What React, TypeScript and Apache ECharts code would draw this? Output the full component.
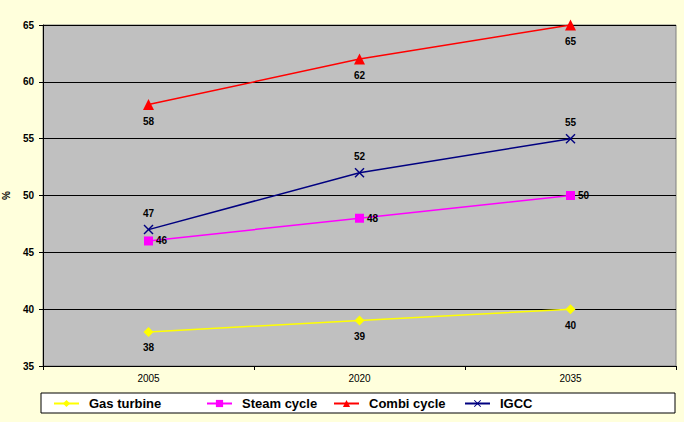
import React, { useEffect, useRef } from "react";
import * as echarts from "echarts";

const years = ["2005", "2020", "2035"];
const gasTurbine = [38, 39, 40];
const steamCycle = [46, 48, 50];
const combiCycle = [58, 62, 65];
const igcc = [47, 52, 55];
const seriesNames = ["Gas turbine", "Steam cycle", "Combi cycle", "IGCC"];

const crossPath =
  "path://M0,1 L1,0 L5,4 L9,0 L10,1 L6,5 L10,9 L9,10 L5,6 L1,10 L0,9 L4,5 Z";

export default function App() {
  const ref = useRef<HTMLDivElement>(null);
  useEffect(() => {
    if (!ref.current) return;
    const chart = echarts.init(ref.current, undefined, { renderer: "svg" });
    const font = "Arial, 'Liberation Sans', sans-serif";
    const lbl = (position: string, distance = 5) => ({
      show: true,
      position,
      distance,
      color: "#000",
      fontFamily: font,
      fontSize: 10,
      fontWeight: "bold",
    });
    const legendPos = [53, 206, 333, 464];
    chart.setOption({
      animation: false,
      backgroundColor: "#FFFFDC",
      grid: {
        left: 43,
        right: 8,
        top: 25,
        bottom: 56,
        outerBoundsMode: "none",
        containLabel: false,
        show: true,
        backgroundColor: "#C0C0C0",
        borderColor: "#808080",
        borderWidth: 1,
      },
      graphic: [
        {
          type: "rect",
          shape: { x: 41, y: 393, width: 634, height: 20 },
          style: { fill: "#FFFFFF", stroke: "#000", lineWidth: 1 },
          z: -1,
          silent: true,
        },
      ],
      legend: seriesNames.map((n, i) => ({
        data: [n],
        left: legendPos[i],
        top: 397,
        itemWidth: 25,
        itemHeight: 9,
        itemGap: 8,
        padding: 0,
        textStyle: {
          color: "#000",
          fontFamily: font,
          fontSize: 13,
          fontWeight: "bold",
          padding: [0, 0, 0, 5],
        },
      })),
      xAxis: {
        type: "category",
        data: years,
        boundaryGap: true,
        axisLine: { show: true, lineStyle: { color: "#000", width: 1 } },
        axisTick: { show: true, length: 4, lineStyle: { color: "#000" } },
        axisLabel: {
          color: "#000",
          fontFamily: font,
          fontSize: 10,
          margin: 7,
        },
      },
      yAxis: {
        type: "value",
        min: 35,
        max: 65,
        interval: 5,
        name: "%",
        nameLocation: "middle",
        nameGap: 29,
        nameRotate: 90,
        nameTextStyle: {
          color: "#000",
          fontFamily: font,
          fontSize: 10,
          fontWeight: "bold",
        },
        axisLine: { show: true, lineStyle: { color: "#000", width: 1 } },
        axisTick: { show: true, length: 4, lineStyle: { color: "#000" } },
        axisLabel: {
          color: "#000",
          fontFamily: font,
          fontSize: 10,
          fontWeight: "bold",
          margin: 9,
        },
        splitLine: { show: true, lineStyle: { color: "#000", width: 1 } },
      },
      series: [
        {
          name: "Gas turbine",
          type: "line",
          data: gasTurbine,
          color: "#FFFF00",
          symbol: "diamond",
          symbolSize: 10,
          lineStyle: { width: 1.5 },
          label: lbl("bottom", 6),
        },
        {
          name: "Steam cycle",
          type: "line",
          data: steamCycle,
          color: "#FF00FF",
          symbol: "rect",
          symbolSize: 9,
          lineStyle: { width: 1.5 },
          label: lbl("right", 3),
        },
        {
          name: "Combi cycle",
          type: "line",
          data: combiCycle,
          color: "#FF0000",
          symbol: "triangle",
          symbolSize: 11,
          lineStyle: { width: 1.5 },
          label: lbl("bottom", 6),
        },
        {
          name: "IGCC",
          type: "line",
          data: igcc,
          color: "#000080",
          symbol: crossPath,
          symbolSize: 10,
          lineStyle: { width: 1.5 },
          label: lbl("top", 6),
        },
      ],
    });
    return () => chart.dispose();
  }, []);
  return (
    <div
      ref={ref}
      style={{
        width: 684,
        height: 422,
        position: "absolute",
        left: 0,
        top: 0,
      }}
    />
  );
}
